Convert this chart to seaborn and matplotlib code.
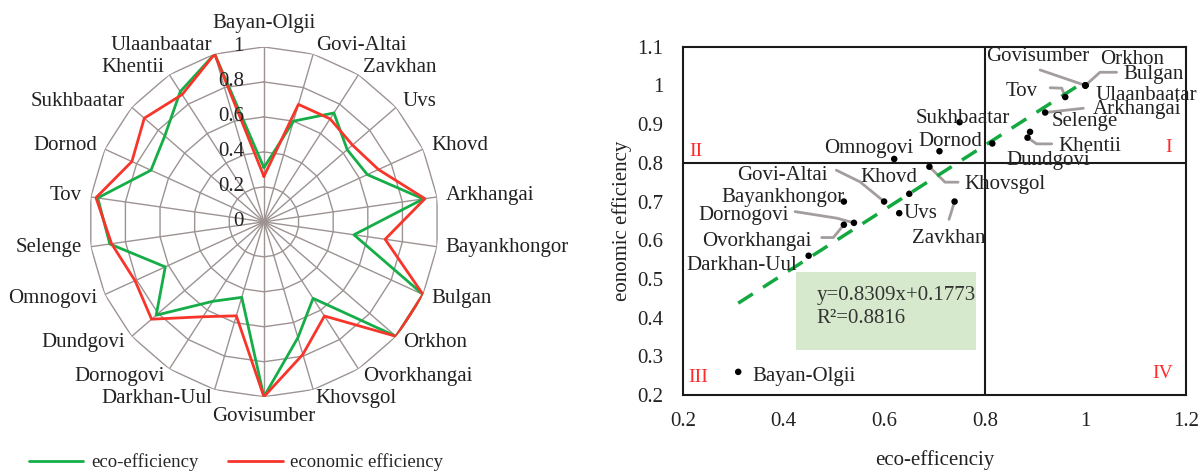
import numpy as np
import pandas as pd
import matplotlib
matplotlib.use('Agg')
import matplotlib.pyplot as plt
import seaborn as sns
from matplotlib.patches import Rectangle
from matplotlib.transforms import offset_copy

# provinces, clockwise from the top of the radar
provinces = ['Bayan-Olgii', 'Govi-Altai', 'Zavkhan', 'Uvs', 'Khovd', 'Arkhangai',
             'Bayankhongor', 'Bulgan', 'Orkhon', 'Ovorkhangai', 'Khovsgol', 'Govisumber',
             'Darkhan-Uul', 'Dornogovi', 'Dundgovi', 'Omnogovi', 'Selenge', 'Tov',
             'Dornod', 'Sukhbaatar', 'Khentii', 'Ulaanbaatar']
eco_eff = [0.31, 0.60, 0.74, 0.63, 0.65, 0.92, 0.52, 1.0, 1.0, 0.52, 0.69, 1.0,
           0.45, 0.54, 0.815, 0.62, 0.89, 0.96, 0.71, 0.75, 0.885, 1.0]
econ_eff = [0.26, 0.70, 0.70, 0.67, 0.72, 0.93, 0.70, 1.0, 1.0, 0.64, 0.79, 1.0,
            0.56, 0.645, 0.85, 0.81, 0.88, 0.97, 0.83, 0.905, 0.865, 1.0]
radar_rings = [0.2, 0.4, 0.6, 0.8, 1.0]
radar_ring_labels = ['0', '0.2', '0.4', '0.6', '0.8', '1']

x_ticks = [0.2, 0.4, 0.6, 0.8, 1.0, 1.2]
x_tick_labels = ['0.2', '0.4', '0.6', '0.8', '1', '1.2']
y_ticks = [0.2, 0.3, 0.4, 0.5, 0.6, 0.7, 0.8, 0.9, 1.0, 1.1]
y_tick_labels = ['0.2', '0.3', '0.4', '0.5', '0.6', '0.7', '0.8', '0.9', '1', '1.1']

# scatter label placement (text centre) and leader elbows, in data units
label_pos = {
    'Bayan-Olgii': (0.441, 0.247), 'Govi-Altai': (0.397, 0.768), 'Zavkhan': (0.728, 0.605),
    'Uvs': (0.673, 0.669), 'Khovd': (0.610, 0.762), 'Arkhangai': (1.102, 0.938),
    'Bayankhongor': (0.399, 0.710), 'Bulgan': (1.135, 1.027), 'Orkhon': (1.093, 1.066),
    'Ovorkhangai': (0.346, 0.596), 'Khovsgol': (0.840, 0.743), 'Govisumber': (0.906, 1.074),
    'Darkhan-Uul': (0.317, 0.536), 'Dornogovi': (0.320, 0.663), 'Dundgovi': (0.926, 0.807),
    'Omnogovi': (0.570, 0.837), 'Selenge': (0.999, 0.906), 'Tov': (0.873, 0.984),
    'Dornod': (0.731, 0.855), 'Sukhbaatar': (0.757, 0.915), 'Khentii': (1.009, 0.843),
    'Ulaanbaatar': (1.122, 0.973),
}
leaders = {
    'Govi-Altai': [(0.505, 0.781), (0.552, 0.751)],
    'Dornogovi': [(0.423, 0.674), (0.506, 0.657)],
    'Ovorkhangai': [(0.476, 0.607), (0.499, 0.607)],
    'Zavkhan': [(0.729, 0.654)],
    'Khovsgol': [(0.747, 0.750), (0.721, 0.750)],
    'Govisumber': [(0.910, 1.040)],
    'Bulgan': [(1.062, 1.034), (1.029, 1.034)],
    'Tov': [(0.930, 0.994), (0.953, 0.993)],
    'Arkhangai': [(0.996, 0.941)],
    'Khentii': [(0.933, 0.849), (0.903, 0.849)],
}

green = '#15ad48'
red = '#f7352a'
grid_c = '#9d9393'
lead_c = '#a39d9d'

sns.set_theme(style='white')
plt.rcParams['font.family'] = ['Liberation Serif', 'DejaVu Serif']

fig = plt.figure(figsize=(11.98, 4.72), dpi=100)

# ---------------- radar ----------------
ax = fig.add_axes([0.0743, 0.159, 0.292, 0.742], projection='polar')
ax.set_theta_zero_location('N')
ax.set_theta_direction(-1)
n = len(provinces)
angles = np.linspace(0, 2 * np.pi, n, endpoint=False)
closed = np.append(angles, 2 * np.pi)

for r in radar_rings:
    ax.plot(closed, [r] * (n + 1), color=grid_c, lw=1, zorder=1)
for a in angles:
    ax.plot([a, a], [0, 1], color=grid_c, lw=1, zorder=1)

radar = pd.DataFrame({
    'theta': np.tile(closed, 2),
    'value': eco_eff + eco_eff[:1] + econ_eff + econ_eff[:1],
    'series': ['eco-efficiency'] * (n + 1) + ['economic efficiency'] * (n + 1),
})
for name, col in [('eco-efficiency', green), ('economic efficiency', red)]:
    sub = radar[radar['series'] == name]
    sns.lineplot(data=sub, x='theta', y='value', sort=False, ax=ax, color=col,
                 lw=2, label=name, legend=False, zorder=3)

ax.set_ylim(0, 1)
ax.set_xticks([])
ax.set_yticks([])
ax.grid(False)
ax.spines['polar'].set_visible(False)
ax.set_xlabel('')
ax.set_ylabel('')

off = offset_copy(ax.transData, fig=fig, x=-20, y=0, units='dots')
for v, t in zip([0] + radar_rings, radar_ring_labels):
    ax.text(0, v, t, transform=off, ha='right', va='center', fontsize=15, color='#222222')

for a, name in zip(angles, provinces):
    s, c = np.sin(a), np.cos(a)
    ha = 'left' if s > 0.1 else ('right' if s < -0.1 else 'center')
    if abs(s) <= 0.1:
        va = 'bottom' if c > 0 else 'top'
        r = 1.08 if c > 0 else 1.06
    else:
        va = 'center'
        r = 1.05
    ax.text(a, r, name, ha=ha, va=va, fontsize=15, color='#222222')

h, l = ax.get_legend_handles_labels()
fig.legend(h, l, loc='center', bbox_to_anchor=(0.197, 0.02), ncol=2, frameon=False,
           fontsize=13.5, handlelength=2.9, columnspacing=1.6, handletextpad=0.4)

# ---------------- scatter ----------------
ax2 = fig.add_axes([0.570, 0.163, 0.420, 0.738])
df = pd.DataFrame({'province': provinces, 'eco': eco_eff, 'econ': econ_eff})

ax2.add_patch(Rectangle((0.425, 0.316), 0.358, 0.203, facecolor='#d6e9cc',
                        edgecolor='none', zorder=1))
sns.regplot(data=df, x='eco', y='econ', scatter=False, ci=None, ax=ax2,
            line_kws=dict(color='#13a840', lw=2.5, ls=(0, (5, 3.5)), zorder=3))

for name, pts in leaders.items():
    px = df.loc[df['province'] == name, 'eco'].iloc[0]
    py = df.loc[df['province'] == name, 'econ'].iloc[0]
    xs = [p[0] for p in pts] + [px]
    ys = [p[1] for p in pts] + [py]
    ax2.plot(xs, ys, color=lead_c, lw=2, zorder=2, solid_capstyle='round')

sns.scatterplot(data=df, x='eco', y='econ', ax=ax2, color='black', s=22,
                edgecolor='none', zorder=4)

for name, (tx, ty) in label_pos.items():
    ax2.text(tx, ty, name, ha='center', va='center', fontsize=15, color='#222222', zorder=5)

ax2.axvline(0.8, color='#1a1a1a', lw=1.5, zorder=2)
ax2.axhline(0.8, color='#1a1a1a', lw=1.5, zorder=2)

ax2.text(0.466, 0.458, 'y=0.8309x+0.1773', ha='left', va='center', fontsize=15, color='#333333', zorder=5)
ax2.text(0.466, 0.399, 'R²=0.8816', ha='left', va='center', fontsize=15, color='#333333', zorder=5)

for txt, (qx, qy) in {'I': (1.166, 0.84), 'II': (0.225, 0.83),
                      'III': (0.23, 0.245), 'IV': (1.154, 0.257)}.items():
    ax2.text(qx, qy, txt, ha='center', va='center', fontsize=14, color='#ff2a2a')

ax2.set_xlim(0.2, 1.2)
ax2.set_ylim(0.2, 1.1)
ax2.set_xticks(x_ticks)
ax2.set_xticklabels(x_tick_labels)
ax2.set_yticks(y_ticks)
ax2.set_yticklabels(y_tick_labels)
ax2.tick_params(axis='both', length=0, labelsize=15, colors='#222222')
ax2.tick_params(axis='x', pad=12)
ax2.tick_params(axis='y', pad=14)
for sp in ax2.spines.values():
    sp.set_color('#1a1a1a')
    sp.set_linewidth(1.5)
ax2.set_xlabel('eco-efficenciy', fontsize=15, color='#222222', labelpad=14)
ax2.set_ylabel('eonomic efficiency', fontsize=15, color='#222222', labelpad=4)

fig.savefig('out.png', dpi=100)
